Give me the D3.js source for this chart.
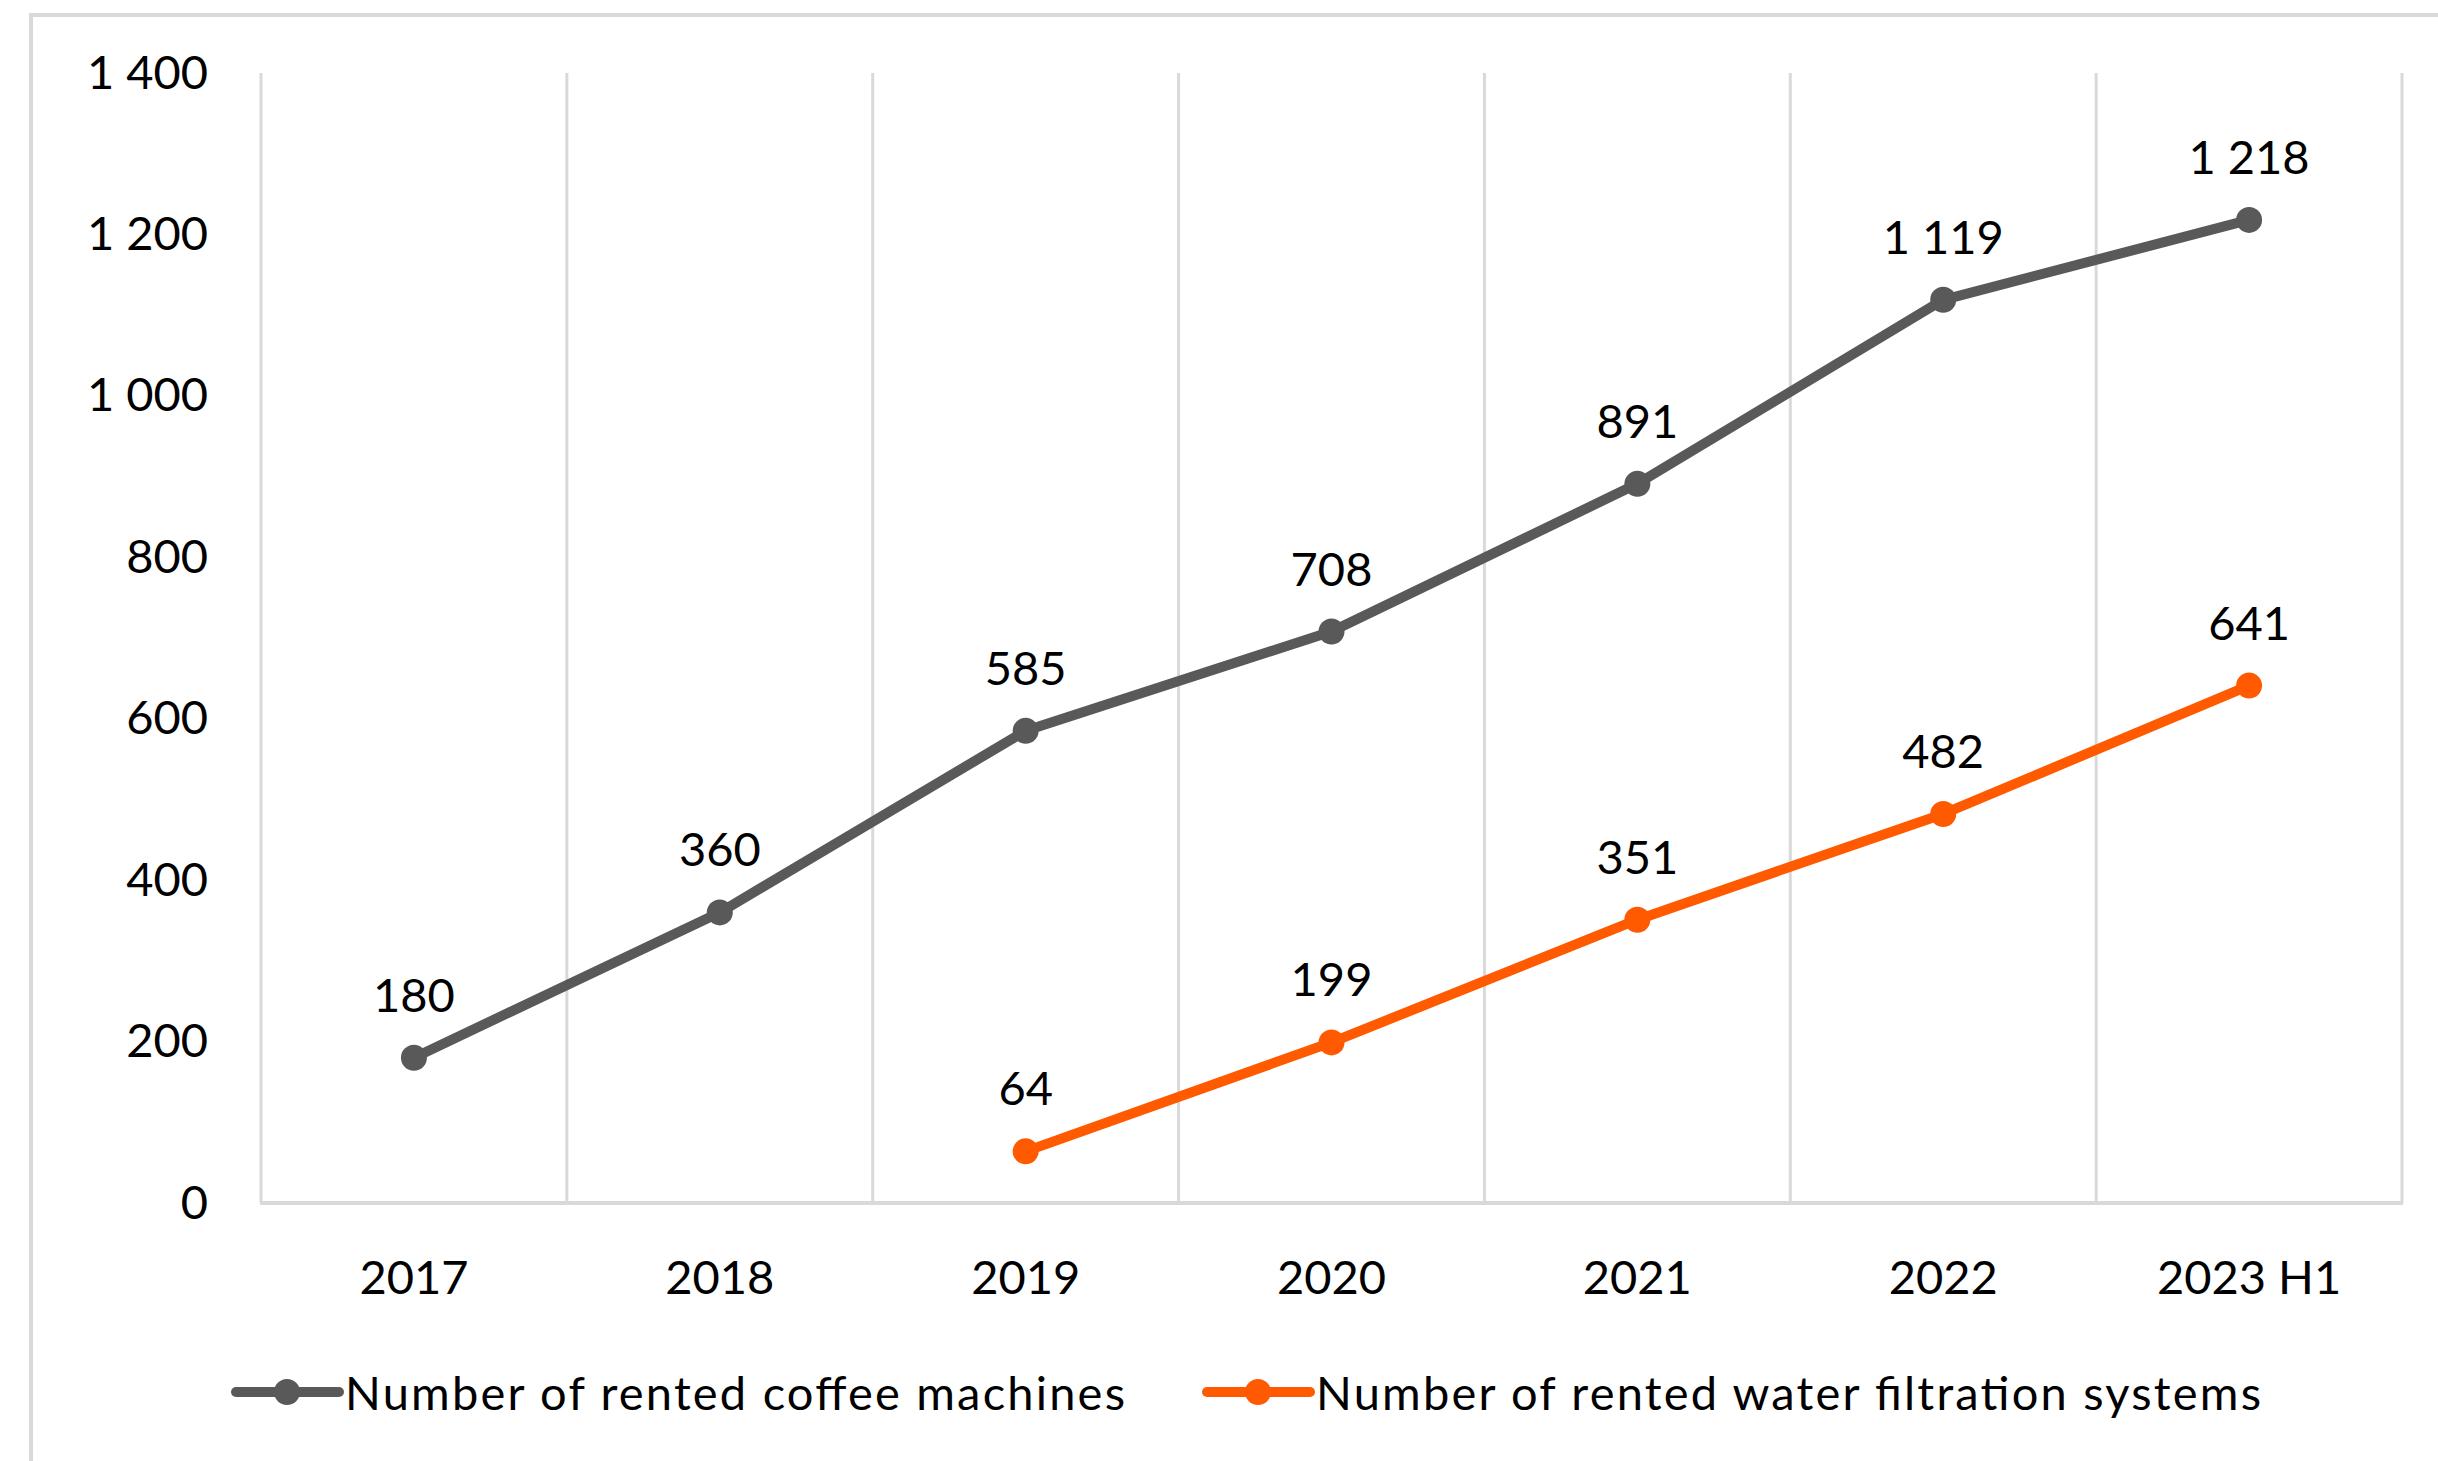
<!DOCTYPE html>
<html>
<head>
<meta charset="utf-8">
<script src="https://cdn.jsdelivr.net/npm/d3@7"></script>
<style>
  html, body { margin: 0; padding: 0; background: #fff; }
  svg { display: block; }
  text { font-family: Lato, "Open Sans", sans-serif; fill: #000; }
</style>
</head>
<body>
<div id="chart"></div>
<script>
const categories = ["2017", "2018", "2019", "2020", "2021", "2022", "2023 H1"];
const coffeeMachines = [180, 360, 585, 708, 891, 1119, 1218];
const waterFilters = [null, null, 64, 199, 351, 482, 641];
const yTicks = [0, 200, 400, 600, 800, 1000, 1200, 1400];
const seriesNames = ["Number of rented coffee machines", "Number of rented water filtration systems"];

function renderLineChart() {
    const width = 2438;
    const height = 1461;
    const fontSize = 47;
    const margin = { left: 261, right: 36, top: 73, bottom: 258 };

    const svg = d3.select("#chart")
        .html("")
        .append("svg")
        .attr("width", width)
        .attr("height", height);

    // outer frame (cut off at right/bottom in the original)
    svg.append("rect")
        .attr("x", 31).attr("y", 15)
        .attr("width", width).attr("height", height)
        .attr("fill", "none")
        .attr("stroke", "#d9d9d9")
        .attr("stroke-width", 4);

    const locale = d3.formatLocale({ decimal: ",", thousands: " ", grouping: [3], currency: ["", ""] });
    const fmt = locale.format(",d");

    const x = d3.scaleBand().domain(categories).range([margin.left, width - margin.right]);
    const y = d3.scaleLinear().domain([0, 1400]).range([height - margin.bottom, margin.top]);

    // vertical grid lines at category boundaries
    const bounds = categories.map(c => x(c)).concat([x.range()[1]]);
    svg.append("g").selectAll("line").data(bounds).enter().append("line")
        .attr("x1", d => d).attr("x2", d => d)
        .attr("y1", y(1400)).attr("y2", y(0))
        .attr("stroke", "#d9d9d9")
        .attr("stroke-width", 3);

    // baseline
    svg.append("line")
        .attr("x1", x.range()[0] - 1).attr("x2", x.range()[1] + 1)
        .attr("y1", y(0)).attr("y2", y(0))
        .attr("stroke", "#d9d9d9")
        .attr("stroke-width", 4);

    // y axis labels
    const yAxis = svg.append("g")
        .attr("transform", `translate(${margin.left},0)`)
        .call(d3.axisLeft(y).tickValues(yTicks).tickFormat(fmt).tickSize(0).tickPadding(53));
    yAxis.select(".domain").remove();
    yAxis.selectAll("text")
        .style("font-family", "Lato, 'Open Sans', sans-serif")
        .style("font-size", fontSize + "px")
        .attr("fill", "#000");

    // x axis labels
    const xAxis = svg.append("g")
        .attr("transform", `translate(0,${y(0)})`)
        .call(d3.axisBottom(x).tickSize(0).tickPadding(58));
    xAxis.select(".domain").remove();
    xAxis.selectAll("text")
        .style("font-family", "Lato, 'Open Sans', sans-serif")
        .style("font-size", fontSize + "px")
        .attr("fill", "#000");

    const series = [
        { name: seriesNames[0], values: coffeeMachines, color: "#595959" },
        { name: seriesNames[1], values: waterFilters, color: "#ff5a00" }
    ];

    const cx = d => x(d.cat) + x.bandwidth() / 2;
    const line = d3.line().x(cx).y(d => y(d.v));

    series.forEach(s => {
        const pts = categories.map((c, i) => ({ cat: c, v: s.values[i] })).filter(d => d.v != null);
        const g = svg.append("g");
        g.append("path")
            .datum(pts)
            .attr("d", line)
            .attr("fill", "none")
            .attr("stroke", s.color)
            .attr("stroke-width", 10)
            .attr("stroke-linejoin", "round")
            .attr("stroke-linecap", "round");
        g.selectAll("circle").data(pts).enter().append("circle")
            .attr("cx", cx)
            .attr("cy", d => y(d.v))
            .attr("r", 13)
            .attr("fill", s.color);
        g.selectAll("text").data(pts).enter().append("text")
            .attr("x", cx)
            .attr("y", d => y(d.v) - 64)
            .attr("text-anchor", "middle")
            .attr("dominant-baseline", "central")
            .style("font-size", fontSize + "px")
            .text(d => fmt(d.v));
    });

    // legend
    const legendY = 1392;
    const legendX = [236, 1207];
    const legendTextWidth = [780, 945];
    series.forEach((s, i) => {
        const g = svg.append("g").attr("transform", `translate(${legendX[i]},${legendY})`);
        g.append("line")
            .attr("x1", 0).attr("x2", 103)
            .attr("y1", 0).attr("y2", 0)
            .attr("stroke", s.color)
            .attr("stroke-width", 10)
            .attr("stroke-linecap", "round");
        g.append("circle").attr("cx", 51).attr("cy", 0).attr("r", 13).attr("fill", s.color);
        g.append("text")
            .attr("x", 109)
            .attr("y", 0)
            .attr("dominant-baseline", "central")
            .attr("textLength", legendTextWidth[i])
            .attr("lengthAdjust", "spacing")
            .style("font-size", fontSize + "px")
            .text(s.name);
    });
}

renderLineChart();
</script>
</body>
</html>
